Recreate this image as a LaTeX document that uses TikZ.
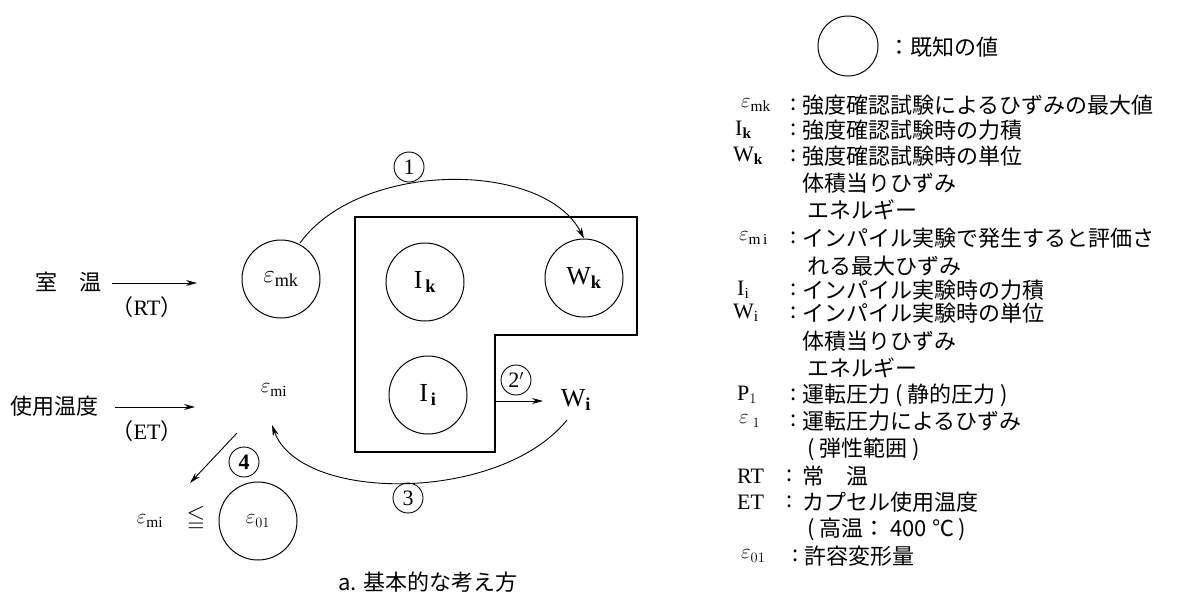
\documentclass[tikz,border=0pt]{standalone}
\usepackage{amssymb}
\usepackage{fontspec}
\setmainfont{Liberation Serif}
\newfontfamily\jp{Noto Sans CJK JP}
\usetikzlibrary{arrows.meta}
\tikzset{
  known/.style={circle, draw, line width=1pt, minimum size=78pt, inner sep=0pt, font=\fontsize{26}{26}\selectfont},
  numlbl/.style={circle, draw, line width=0.9pt, minimum size=30pt, inner sep=0pt, font=\fontsize{22}{22}\selectfont},
  arr/.style={-{Stealth[length=11pt,width=6pt]}, line width=0.9pt},
  boxline/.style={line width=2.4pt, line join=miter},
  jpt/.style={font=\fontsize{22}{22}\selectfont\jp, inner sep=0pt},
  lat/.style={font=\fontsize{22}{22}\selectfont, inner sep=0pt},
  sym/.style={font=\fontsize{22}{22}\selectfont, inner sep=0pt, anchor=west},
  colon/.style={font=\fontsize{22}{22}\selectfont\jp, inner sep=0pt},
  leg/.style={font=\fontsize{22}{22}\selectfont\jp, inner sep=0pt, anchor=west},
}
\begin{document}
\begin{tikzpicture}[x=1pt,y=-1pt]
\useasboundingbox (0,0) rectangle (1200,598);

% ---------- left diagram ----------
\node[jpt, anchor=west] (rt) at (35,282) {室　温};
\node[lat] (rtlab) at (147,307) {{\jp（}RT{\jp）}};
\coordinate (rts) at (112,283);
\coordinate (rte) at (197,283);
\draw[arr] (rts) -- (rte);

\node[jpt, anchor=west] (et) at (10,406) {使用温度};
\node[lat] (etlab) at (147,431) {{\jp（}ET{\jp）}};
\coordinate (ets) at (115,407);
\coordinate (ete) at (195,407);
\draw[arr] (ets) -- (ete);

\node[known] (emk) at (281,279) {$\varepsilon_{\mathrm{mk}}$};
\node[known] (ik) at (425,282) {$\mathrm{I}_{\,\mathbf{k}}$};
\node[known] (wk) at (584,278) {$\mathrm{W}_{\mathbf{k}}$};
\node[known] (ii) at (428,395) {$\mathrm{I}_{\,\mathbf{i}}$};

% L-shaped box
\draw[boxline] (355,217) -- (637,217) -- (637,335) -- (495,335) -- (495,452) -- (355,452) -- cycle;

% arc 1
\coordinate (a1s) at (300,243);
\draw[arr] (a1s) .. controls (360,160) and (544,160) .. (wk.north);
\node[numlbl] (n1) at (409,167) {1};

% arrow 2'
\node[font=\fontsize{26}{26}\selectfont, inner sep=0pt] (wi) at (576,400) {$\mathrm{W}_{\mathbf{i}}$};
\coordinate (a2s) at (495,401);
\coordinate (a2e) at (543,401);
\draw[arr] (a2s) -- (a2e);
\node[numlbl] (n2) at (516,380) {2$'$};

% arc 3
\node[font=\fontsize{22}{22}\selectfont, inner sep=0pt] (emi) at (274,390) {$\varepsilon_{\mathrm{mi}}$};
\coordinate (a3s) at (567,420);
\coordinate (a3e) at (272,425);
\draw[arr] (a3s) .. controls (500,503) and (300,503) .. (a3e);
\node[numlbl] (n3) at (408,498) {3};

% arrow 4
\coordinate (a4s) at (237,433);
\coordinate (a4e) at (190,483);
\draw[arr] (a4s) -- (a4e);
\node[numlbl, font=\fontsize{22}{22}\selectfont\bfseries] (n4) at (244,462) {4};

% inequality
\node[font=\fontsize{22}{22}\selectfont, inner sep=0pt] (emi2) at (150,521) {$\varepsilon_{\mathrm{mi}}$};
\node[font=\fontsize{24}{24}\selectfont, inner sep=0pt] (leq) at (196,518) {$\leqq$};
\node[known, font=\fontsize{22}{22}\selectfont] (e01) at (258,521) {$\varepsilon_{01}$};

% caption
\node[jpt] (cap) at (428,582) {a. 基本的な考え方};

% ---------- legend ----------
\node[circle, draw, line width=1pt, minimum size=60pt, inner sep=0pt] (legc) at (848,46) {};
\node[leg] (legt) at (888,47) {：既知の値};

\node[sym] (s1) at (741,105) {$\varepsilon_{\mathrm{mk}}$};
\node[colon] (c1) at (794,105) {:};
\node[leg] (t1) at (802,105) {強度確認試験によるひずみの最大値};

\node[sym] (s2) at (735,130) {$\mathrm{I}_{\mathbf{k}}$};
\node[colon] (c2) at (794,130) {:};
\node[leg] (t2) at (802,130) {強度確認試験時の力積};

\node[sym] (s3) at (733,156) {$\mathrm{W}_{\mathbf{k}}$};
\node[colon] (c3) at (794,156) {:};
\node[leg] (t3) at (802,156) {強度確認試験時の単位};
\node[leg] (t4) at (802,183) {体積当りひずみ};
\node[leg] (t5) at (807,210) {エネルギー};

\node[sym] (s6) at (739,238) {$\varepsilon_{\mathrm{m\,i}}$};
\node[colon] (c6) at (794,238) {:};
\node[leg] (t6) at (802,238) {インパイル実験で発生すると評価さ};
\node[leg] (t7) at (807,266) {れる最大ひずみ};

\node[sym] (s8) at (737,290) {$\mathrm{I}_{\mathrm{i}}$};
\node[colon] (c8) at (794,290) {:};
\node[leg] (t8) at (802,290) {インパイル実験時の力積};

\node[sym] (s9) at (733,313) {$\mathrm{W}_{\mathrm{i}}$};
\node[colon] (c9) at (794,313) {:};
\node[leg] (t9) at (802,313) {インパイル実験時の単位};
\node[leg] (t10) at (802,341) {体積当りひずみ};
\node[leg] (t11) at (807,368) {エネルギー};

\node[sym] (s12) at (737,395) {$\mathrm{P}_{1}$};
\node[colon] (c12) at (794,395) {:};
\node[leg] (t12) at (802,395) {運転圧力 ( 静的圧力 )};

\node[sym] (s13) at (739,421) {$\varepsilon_{\;1}$};
\node[colon] (c13) at (794,421) {:};
\node[leg] (t13) at (802,421) {運転圧力によるひずみ};
\node[leg] (t14) at (807,449) {( 弾性範囲 )};

\node[sym] (s15) at (737,476) {RT};
\node[colon] (c15) at (790,476) {:};
\node[leg] (t15) at (802,476) {常　温};

\node[sym] (s16) at (737,502) {ET};
\node[colon] (c16) at (790,502) {:};
\node[leg] (t16) at (802,502) {カプセル使用温度};
\node[leg] (t17) at (807,529) {( 高温： 400 ℃ )};

\node[sym] (s18) at (741,556) {$\varepsilon_{01}$};
\node[colon] (c18) at (796,556) {:};
\node[leg] (t18) at (804,556) {許容変形量};
\end{tikzpicture}
\end{document}
